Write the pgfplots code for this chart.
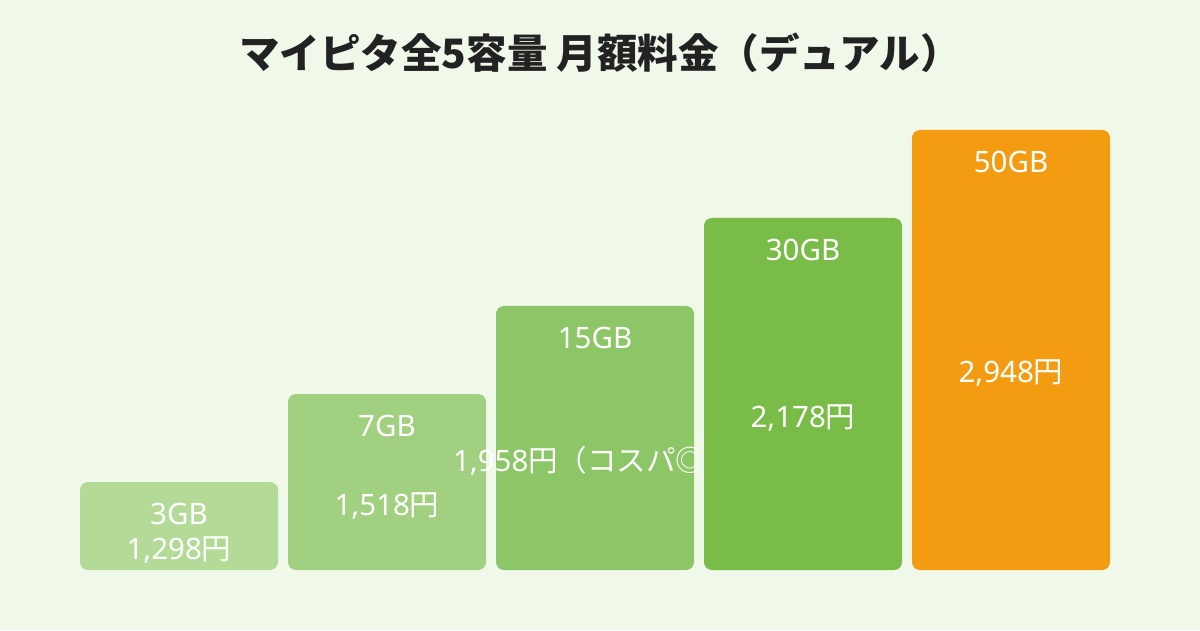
\documentclass[border=0pt]{standalone}
\usepackage{pgfplots}
\pgfplotsset{compat=1.18}
\usepackage{fontspec}
\setmainfont{Noto Sans}
\newfontfamily\jp{Noto Sans CJK JP}
\definecolor{bg}{HTML}{F0F8E9}
\definecolor{titlec}{HTML}{222222}
\definecolor{c3}{HTML}{B4DA98}
\definecolor{c7}{HTML}{A1D080}
\definecolor{c15}{HTML}{8DC666}
\definecolor{c30}{HTML}{79BD48}
\definecolor{c50}{HTML}{F39C12}
\tikzset{lbl/.style={anchor=base, text=white, font=\fontsize{29.5}{34}\selectfont}}
\begin{document}
\begin{tikzpicture}
\fill[bg] (0,0) rectangle (1200pt,630pt);
\useasboundingbox (0,0) rectangle (1200pt,630pt);
\node[font=\jp\bfseries\fontsize{40.5}{46}\selectfont, text=titlec] at (600pt,577pt)
  {マイピタ全5容量 月額料金（デュアル）};
\begin{axis}[
  at={(75pt,60pt)}, anchor=south west,
  x=208pt, y=88pt,
  xmin=-0.5, xmax=4.5, ymin=0, ymax=5.3,
  axis lines=none, ticks=none,
  clip=false,
  every axis plot/.append style={ybar, bar width=198pt, bar shift=0pt,
    draw=none, rounded corners=8pt},
]
\addplot[fill=c3]  coordinates {(0,1)};
\addplot[fill=c7]  coordinates {(1,2)};
\addplot[fill=c15] coordinates {(2,3)};
\addplot[fill=c30] coordinates {(3,4)};
\addplot[fill=c50] coordinates {(4,5)};
% capacity names
\node[lbl] at (axis cs:0,0.517) {3GB};
\node[lbl] at (axis cs:1,1.517) {7GB};
\node[lbl] at (axis cs:2,2.517) {15GB};
\node[lbl] at (axis cs:3,3.517) {30GB};
\node[lbl] at (axis cs:4,4.517) {50GB};
% prices
\node[lbl] at (axis cs:0,0.125) {1,298{\jp 円}};
\node[lbl] at (axis cs:1,0.625) {1,518{\jp 円}};
\begin{scope}
\clip (axis cs:0.5,-1) rectangle (axis cs:2.497,6);
\node[lbl] at (axis cs:1.995,1.125) {1,958{\jp 円（コスパ◎）}};
\end{scope}
\node[lbl] at (axis cs:3,1.625) {2,178{\jp 円}};
\node[lbl] at (axis cs:4,2.125) {2,948{\jp 円}};
\end{axis}
\end{tikzpicture}
\end{document}
